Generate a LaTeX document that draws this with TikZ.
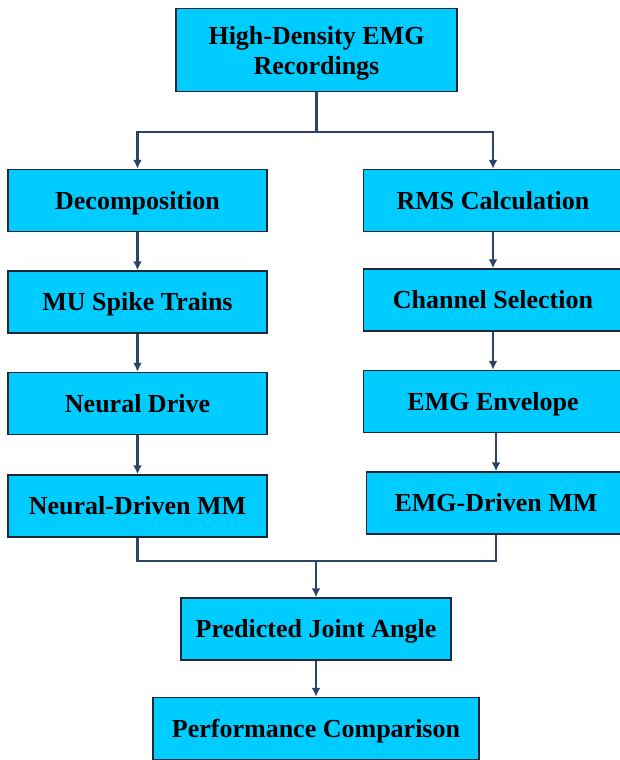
\documentclass[tikz,border=0pt]{standalone}
\usepackage{fontspec}
\setmainfont{Liberation Serif}
\usetikzlibrary{arrows.meta,calc,positioning}
\definecolor{boxfill}{HTML}{00CCFF}
\definecolor{boxline}{HTML}{1C2738}
\definecolor{linkcol}{HTML}{2C4566}
\tikzstyle{blk}=[draw=boxline,fill=boxfill,line width=1.5pt,minimum height=62pt,minimum width=259pt,text centered,inner sep=0pt,text height=17.5pt,text depth=0pt,font=\fontsize{26}{30}\selectfont\bfseries]
\tikzstyle{link}=[draw=linkcol,line width=2.2pt]

\begin{document}
\begin{tikzpicture}[>={Latex[length=9pt,width=9pt]},auto]
    \useasboundingbox (0,0) rectangle (619pt,-760pt);
    \node [blk,minimum width=281pt,minimum height=83pt,align=center,text height=,text depth=-2pt] (hd) at (316.5pt,-50pt) {High-Density EMG\\Recordings};
    % left branch
    \node [blk] (dec) at (137.5pt,-200.5pt) {Decomposition};
      \node [blk] (mu)  [below=38pt of dec] {MU Spike Trains};
      \node [blk] (nd)  [below=38pt of mu] {Neural Drive};
      \node [blk] (ndm) [below=39pt of nd] {Neural-Driven MM};
    % right branch
    \node [blk] (rms) at (493pt,-200.5pt) {RMS Calculation};
      \node [blk] (chs) [below=36pt of rms] {Channel Selection};
      \node [blk] (env) [below=38pt of chs] {EMG Envelope};
      \node [blk] (emm) [below=38pt of env,xshift=3pt] {EMG-Driven MM};
    \node [blk,minimum width=270pt] (pja) at (316pt,-629pt) {Predicted Joint Angle};
    \node [blk,minimum width=326pt] (pc) [below=36pt of pja] {Performance Comparison};

      \coordinate (split) at ($(hd.south)+(0,-40pt)$);
      \coordinate (merge) at ($(ndm.south)+(0,-23pt)$);
      \coordinate (join) at (pja.north |- merge);
      \draw[link] (hd.south) -- (split);
      \draw[link,->] (split) -| (dec.north);
      \draw[link,->] (split) -| (rms.north);
      \draw[link,->] (dec) -- (mu);
      \draw[link,->] (mu) -- (nd);
      \draw[link,->] (nd) -- (ndm);
      \draw[link,->] (rms) -- (chs);
      \draw[link,->] (chs) -- (env);
      \draw[link,->] (env.south -| emm.north) -- (emm.north);
      \draw[link] (ndm.south) -- (ndm.south |- merge) -| (emm.south);
      \draw[link,->] (join) -- (pja.north);
      \draw[link,->] (pja) -- (pc);
    \end{tikzpicture}
\end{document}
